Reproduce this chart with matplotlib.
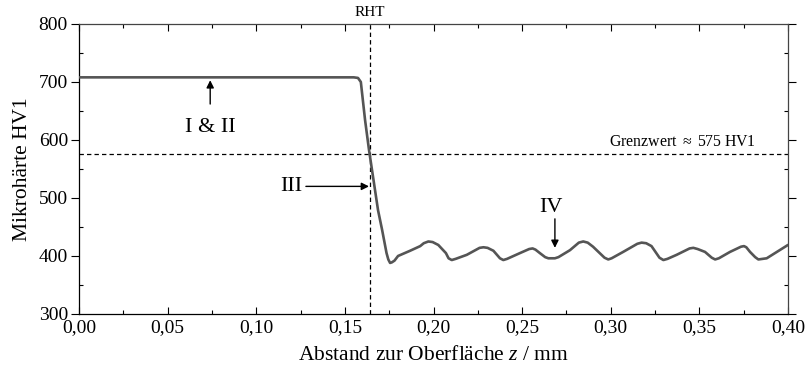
import matplotlib.pyplot as plt
from matplotlib.ticker import FixedLocator, MultipleLocator

plt.rcParams["font.family"] = ["Liberation Serif", "DejaVu Serif"]
plt.rcParams["mathtext.fontset"] = "custom"
plt.rcParams["mathtext.rm"] = "Liberation Serif"
plt.rcParams["mathtext.it"] = "Liberation Serif:italic"

# hardness profile below the surface
depth = [0.000, 0.150, 0.155, 0.1574, 0.159, 0.1614, 0.1636, 0.1687, 0.171,
         0.1735, 0.1745, 0.1755, 0.1765, 0.178, 0.180, 0.1868, 0.1925, 0.1945,
         0.1971, 0.1995, 0.2027, 0.2070, 0.2085, 0.2103, 0.2125, 0.2188,
         0.2260, 0.2282, 0.2305, 0.2338, 0.2375, 0.2394, 0.2415, 0.2488,
         0.2540, 0.2559, 0.2575, 0.2600, 0.2630, 0.2648, 0.2685, 0.2705,
         0.2770, 0.2820, 0.2845, 0.2870, 0.2900, 0.2965, 0.2986, 0.3005,
         0.3070, 0.3150, 0.3174, 0.3200, 0.3230, 0.3275, 0.3297, 0.3320,
         0.3372, 0.3445, 0.3466, 0.3490, 0.3532, 0.3570, 0.3589, 0.3610,
         0.3673, 0.3735, 0.3752, 0.3765, 0.3786, 0.3815, 0.3833, 0.3880,
         0.4000]
hardness = [708, 708, 708, 707, 700, 634, 583, 479, 445,
            405, 394, 388, 389, 392, 400, 409, 417, 422,
            425, 424, 419, 405, 396, 393, 395, 402,
            414, 415, 414, 409, 396, 393, 395, 405,
            412, 413, 411, 405, 398, 396, 396, 398,
            410, 423, 425, 423, 416, 397, 394, 396,
            407, 421, 423, 422, 417, 397, 393, 395,
            402, 413, 414, 412, 407, 397, 394, 396,
            407, 416, 417, 415, 407, 398, 394, 396,
            419]

rht = 0.164
limit = 575

xticks = [0.00, 0.05, 0.10, 0.15, 0.20, 0.25, 0.30, 0.35, 0.40]
xticklabels = ["0,00", "0,05", "0,10", "0,15", "0,20", "0,25", "0,30", "0,35", "0,40"]
yticks = [300, 400, 500, 600, 700, 800]

fig = plt.figure(figsize=(8.09, 3.72), dpi=100)
ax = fig.add_axes([0.0977, 0.156, 0.8763, 0.7795])

ax.plot(depth, hardness, color="#555555", lw=1.9, solid_joinstyle="round",
        solid_capstyle="round", zorder=3)
ax.axvline(rht, color="black", lw=0.9, ls=(0, (3.5, 2.5)))
ax.axhline(limit, color="black", lw=0.9, ls=(0, (3.5, 2.5)))

ax.set_xlim(0, 0.40)
ax.set_ylim(300, 800)
ax.xaxis.set_major_locator(FixedLocator(xticks))
ax.set_xticklabels(xticklabels)
ax.xaxis.set_minor_locator(MultipleLocator(0.025))
ax.set_yticks(yticks)
ax.yaxis.set_minor_locator(MultipleLocator(50))

ax.tick_params(axis="x", which="both", direction="in", top=True, labelsize=14,
               pad=4)
ax.tick_params(axis="x", which="major", length=5, width=0.8)
ax.tick_params(axis="x", which="minor", length=3, width=0.8)
ax.tick_params(axis="y", which="both", direction="in", right=True, labelsize=14,
               pad=2)
ax.tick_params(axis="y", which="major", direction="out", length=6, width=0.8)
ax.tick_params(axis="y", which="minor", length=3, width=0.8)
for side in ["left", "bottom", "right", "top"]:
    ax.spines[side].set_linewidth(0.9)
ax.spines["right"].set_color("#444444")
ax.spines["top"].set_color("#444444")

ax.set_xlabel(r"Abstand zur Oberfläche $\mathit{z}$ / mm", fontsize=15.5, labelpad=7)
ax.set_ylabel("Mikrohärte HV1", fontsize=15.5, labelpad=5)

ax.text(rht, 808, "RHT", ha="center", va="bottom", fontsize=11)
ax.text(0.382, 582, "Grenzwert $\\approx$ 575 HV1", ha="right", va="bottom",
        fontsize=11.4)

arrow = dict(arrowstyle="-|>", color="black", lw=1.0, mutation_scale=11,
             shrinkA=0, shrinkB=0)
ax.text(0.074, 621, "I & II", ha="center", va="center", fontsize=16)
ax.annotate("", xy=(0.074, 703), xytext=(0.074, 662), arrowprops=arrow)
ax.text(0.1197, 520, "III", ha="center", va="center", fontsize=16)
ax.annotate("", xy=(0.1636, 520), xytext=(0.128, 520), arrowprops=arrow)
ax.text(0.2663, 483, "IV", ha="center", va="center", fontsize=16)
ax.annotate("", xy=(0.2685, 414), xytext=(0.2685, 464), arrowprops=arrow)

fig.savefig("out.png", dpi=100)
